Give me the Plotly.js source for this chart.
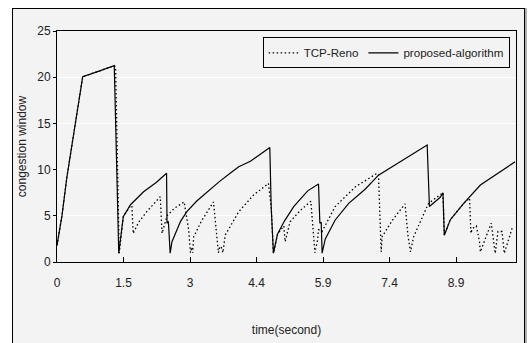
<!DOCTYPE html>
<html>
<head>
<meta charset="utf-8">
<script src="https://cdn.plot.ly/plotly-3.0.1.min.js"></script>
<style>
  html, body { margin: 0; padding: 0; background: #ffffff; }
  #frame { position: absolute; left: 12px; top: 8px; width: 511px; height: 345px;
           border: 1px solid #000; background: #f3f3f3; box-shadow: 2px 0 0 #b0b0b0; }
  #chart { position: absolute; left: 0; top: 0; width: 528px; height: 343px; }
</style>
</head>
<body>
<div id="frame"></div>
<div id="chart"></div>
<script>
// time (second) and congestion window values
const timeProposed = [0, 0.11, 0.22, 0.41, 0.48, 0.57, 0.9, 1.27, 1.37, 1.47, 1.63, 1.81, 1.92, 2.2, 2.43, 2.44, 2.47, 2.51, 2.55, 2.74, 2.88, 3.1, 3.33, 3.6, 3.84, 4.03, 4.29, 4.5, 4.72, 4.75, 4.8, 4.89, 5.04, 5.25, 5.34, 5.56, 5.8, 5.83, 5.86, 5.88, 5.95, 6.17, 6.47, 6.84, 7.13, 7.65, 7.9, 8.21, 8.26, 8.5, 8.56, 8.59, 8.72, 9.02, 9.39, 9.83, 10.16];
const cwndProposed = [1.8, 5.0, 9.2, 15.0, 17.4, 20.05, 20.6, 21.25, 0.95, 4.9, 6.2, 7.1, 7.6, 8.6, 9.6, 4.2, 4.4, 0.95, 2.2, 4.4, 5.45, 6.6, 7.6, 8.7, 9.6, 10.3, 10.9, 11.6, 12.4, 6.0, 0.95, 3.0, 4.4, 6.0, 6.5, 7.7, 8.44, 4.2, 4.3, 0.95, 2.5, 4.55, 6.35, 7.9, 9.4, 11.0, 11.8, 12.66, 6.0, 7.0, 7.5, 2.9, 4.55, 6.35, 8.33, 9.77, 10.85];

const timeReno = [0, 0.11, 0.22, 0.41, 0.48, 0.57, 0.9, 1.27, 1.3, 1.38, 1.47, 1.63, 1.66, 1.69, 1.81, 2.0, 2.29, 2.33, 2.44, 2.6, 2.82, 2.92, 2.96, 2.99, 3.01, 3.03, 3.2, 3.47, 3.58, 3.61, 3.64, 3.68, 3.73, 3.84, 4.03, 4.36, 4.69, 4.75, 4.77, 4.8, 4.89, 5.03, 5.06, 5.17, 5.4, 5.63, 5.68, 5.7, 5.72, 5.78, 5.8, 5.88, 6.17, 6.62, 7.1, 7.13, 7.16, 7.19, 7.21, 7.45, 7.72, 7.78, 7.84, 7.91, 8.24, 8.56, 8.59, 8.72, 9.02, 9.15, 9.18, 9.21, 9.3, 9.37, 9.39, 9.63, 9.72, 9.78, 9.87, 9.92, 10.11];
const cwndReno = [1.8, 5.0, 9.2, 15.0, 17.4, 20.05, 20.6, 21.25, 21.1, 0.95, 4.9, 6.1, 6.1, 3.1, 4.3, 5.5, 7.07, 3.1, 5.0, 5.8, 6.5, 3.5, 1.0, 1.6, 1.0, 2.7, 4.4, 6.5, 1.0, 1.66, 1.66, 1.0, 2.9, 3.8, 5.44, 7.25, 8.5, 6.0, 4.0, 0.95, 3.0, 3.9, 2.2, 4.36, 5.6, 6.57, 3.5, 2.0, 1.0, 2.4, 3.5, 3.3, 6.0, 8.15, 9.6, 9.4, 5.0, 1.1, 2.74, 4.6, 6.3, 3.0, 1.1, 2.74, 6.35, 7.5, 2.9, 4.55, 6.35, 6.9, 3.1, 3.6, 3.9, 2.2, 1.1, 4.2, 0.94, 3.3, 3.3, 0.94, 3.9];

const tickVals = [0, 1.475, 2.95, 4.425, 5.9, 7.375, 8.85];
const tickText = ['0', '1.5', '3', '4.4', '5.9', '7.4', '8.9'];
const yTicks = [0, 5, 10, 15, 20, 25];

const fontFam = '"Liberation Sans Narrow", "Arial Narrow", "Liberation Sans", Arial, sans-serif';

const traces = [
  { x: timeReno, y: cwndReno, type: 'scatter', mode: 'lines', name: 'TCP-Reno',
    line: { color: '#000', width: 1.3, dash: '1.5px,2.5px' } },
  { x: timeProposed, y: cwndProposed, type: 'scatter', mode: 'lines', name: 'proposed-algorithm',
    line: { color: '#000', width: 1.2 } }
];

const layout = {
  width: 528, height: 343,
  margin: { l: 57, r: 12, t: 31, b: 81 },
  paper_bgcolor: 'rgba(0,0,0,0)',
  plot_bgcolor: '#f3f3f3',
  font: { family: fontFam, size: 12, color: '#222' },
  showlegend: true,
  legend: {
    orientation: 'h', x: 0.448, y: 0.972, xanchor: 'left', yanchor: 'top',
    bgcolor: '#f3f3f3', bordercolor: '#000', borderwidth: 1,
    font: { family: fontFam, size: 11.6, color: '#222' },
    itemwidth: 30, tracegroupgap: 0
  },
  xaxis: {
    range: [0, 10.18], tickvals: tickVals, ticktext: tickText,
    ticks: 'inside', ticklen: 5, tickcolor: '#000', tickwidth: 1,
    showgrid: false, zeroline: false,
    showline: true, linecolor: '#000', linewidth: 1, mirror: true,
    ticklabelstandoff: 10,
    title: { text: 'time(second)', font: { family: fontFam, size: 12, color: '#222' }, standoff: 36 },
    fixedrange: true
  },
  yaxis: {
    range: [0, 25], tickvals: yTicks,
    ticks: 'outside', ticklen: 3, tickcolor: '#000',
    showgrid: true, gridcolor: '#ffffff', gridwidth: 1, zeroline: false,
    showline: true, linecolor: '#000', linewidth: 1, mirror: true,
    title: { text: 'congestion window', font: { family: fontFam, size: 12, color: '#222' }, standoff: 8 },
    fixedrange: true
  }
};

Plotly.newPlot('chart', traces, layout, { staticPlot: true, displayModeBar: false });
</script>
</body>
</html>
